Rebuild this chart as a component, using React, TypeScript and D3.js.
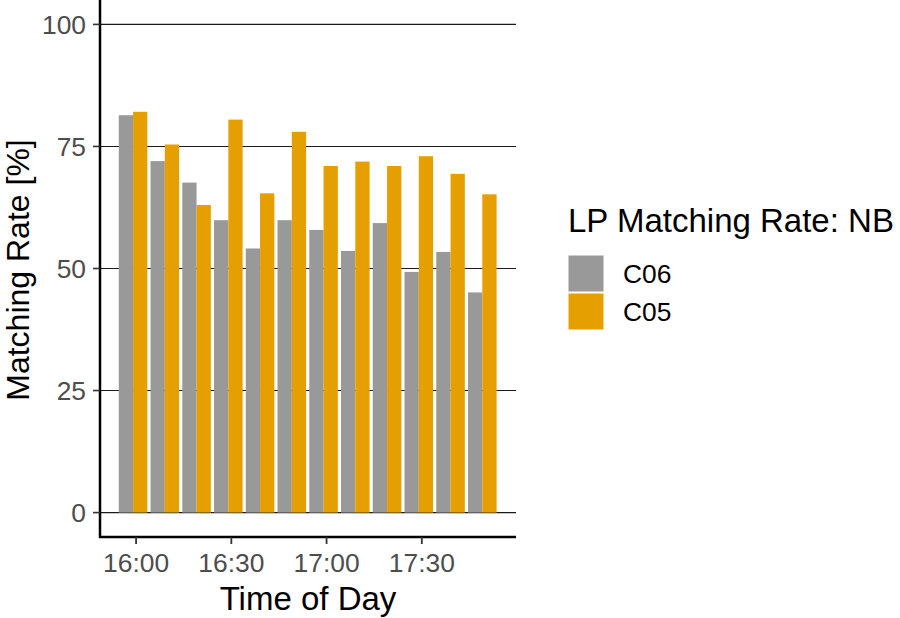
import React from 'react';
import * as d3 from 'd3';

// matching rate per 10-minute slot
const times = ['16:00', '16:10', '16:20', '16:30', '16:40', '16:50', '17:00', '17:10', '17:20', '17:30', '17:40', '17:50'];
const c06 = [81.4, 72.0, 67.6, 59.9, 54.1, 59.9, 57.9, 53.6, 59.3, 49.3, 53.4, 45.1];
const c05 = [82.1, 75.4, 63.0, 80.5, 65.4, 78.0, 71.0, 71.9, 71.0, 73.0, 69.4, 65.2];
const seriesNames = ['C06', 'C05'];
const colors = ['#999999', '#E69F00'];
const yTicks = [0, 25, 50, 75, 100];

const W = 900;
const H = 618;
const font = '"Liberation Sans", Arial, Helvetica, sans-serif';

function App() {
  const parse = d3.timeParse('%H:%M:%S');
  const fmt = d3.timeFormat('%H:%M');

  const x = d3
    .scaleTime()
    .domain([parse('15:48:38'), parse('17:59:40')])
    .range([100, 516]);
  const y = d3.scaleLinear().domain([-5, 105]).range([537, 0]);

  const slot = 10 * 60 * 1000;
  const barW = x(new Date(x.domain()[0].getTime() + slot * 0.45)) - x(x.domain()[0]);
  const shift = -57 * 1000; // bars sit a bit left of the ticks

  const rows = times.map((t, i) => ({ t: parse(t + ':00'), vals: [c06[i], c05[i]] }));
  const xTicks = x.ticks(d3.timeMinute.every(30)).filter((d) => d >= parse('16:00:00') && d <= parse('17:30:00'));

  return (
    <svg width={W} height={H} style={{ position: 'absolute', left: 0, top: 0 }} fontFamily={font}>
      <rect width={W} height={H} fill="white" />

      {/* grid */}
      {yTicks.map((v) => (
        <line key={'g' + v} x1={100} x2={516} y1={y(v)} y2={y(v)} stroke="#1a1a1a" strokeWidth={1.1} />
      ))}

      {/* bars */}
      {rows.map((r, i) => {
        const cx = x(new Date(r.t.getTime() + shift));
        return r.vals.map((v, j) => (
          <rect
            key={i + '-' + j}
            x={cx - barW + j * barW}
            y={y(v)}
            width={barW}
            height={y(0) - y(v)}
            fill={colors[j]}
          />
        ));
      })}

      {/* axes */}
      <line x1={100} x2={100} y1={0} y2={538} stroke="black" strokeWidth={2.5} />
      <line x1={99} x2={516} y1={537} y2={537} stroke="black" strokeWidth={2.5} />

      {yTicks.map((v) => (
        <g key={'y' + v}>
          <line x1={93} x2={100} y1={y(v)} y2={y(v)} stroke="#333" strokeWidth={1.6} />
          <text x={86} y={y(v) + 9.5} textAnchor="end" fontSize={26.4} fill="#4D4D4D">
            {v}
          </text>
        </g>
      ))}

      {xTicks.map((d) => (
        <g key={'x' + d.getTime()}>
          <line x1={x(d)} x2={x(d)} y1={537} y2={544} stroke="#333" strokeWidth={1.8} />
          <text x={x(d)} y={572} textAnchor="middle" fontSize={26.4} fill="#4D4D4D">
            {fmt(d)}
          </text>
        </g>
      ))}

      <text x={308} y={610} textAnchor="middle" fontSize={33} fill="black">
        Time of Day
      </text>
      <text transform="translate(29,270) rotate(-90)" textAnchor="middle" fontSize={32} fill="black">
        Matching Rate [%]
      </text>

      {/* legend */}
      <text x={568} y={232} fontSize={33} fill="black">
        LP Matching Rate: NB
      </text>
      {seriesNames.map((s, j) => (
        <g key={s}>
          <rect x={568} y={255 + j * 38} width={36} height={37} fill={colors[j]} stroke="white" strokeWidth={1} />
          <text x={623} y={283 + j * 38} fontSize={26.4} fill="black">
            {s}
          </text>
        </g>
      ))}
    </svg>
  );
}

export default App;
